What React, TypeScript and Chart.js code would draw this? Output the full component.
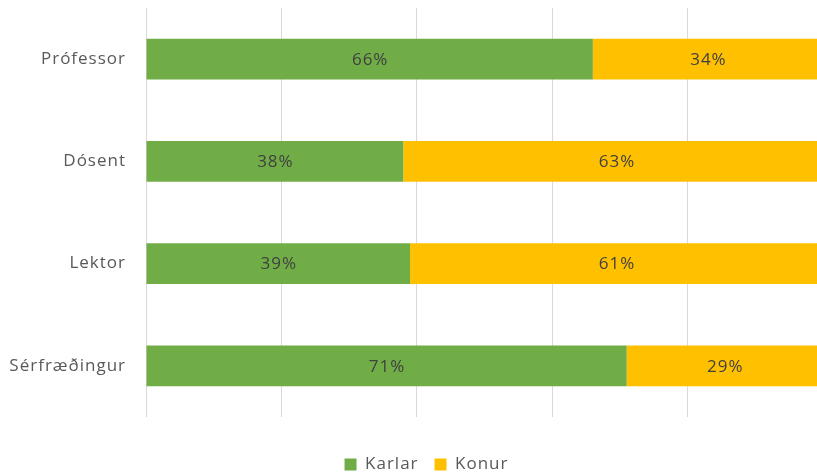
import React, { useEffect, useRef } from "react";
import { Chart, registerables } from "chart.js";

Chart.register(...registerables);

const categories = ["Prófessor", "Dósent", "Lektor", "Sérfræðingur"];
const karlar = [66, 38, 39, 71];
const konur = [34, 63, 61, 29];
const seriesNames = ["Karlar", "Konur"];
const xTickStep = 20;

const FONT = "'Open Sans', 'Liberation Sans', sans-serif";

const spacingPlugin = {
  id: "spacing",
  beforeLayout(chart: any) {
    chart.ctx.letterSpacing = "1px";
  },
  afterLayout(chart: any) {
    if (chart.legend) chart.legend.left = 36;
  },
  beforeDraw(chart: any) {
    chart.ctx.letterSpacing = "1px";
  },
};

const dataLabelPlugin = {
  id: "dataLabels",
  afterDatasetsDraw(chart: any) {
    const ctx = chart.ctx;
    ctx.save();
    ctx.letterSpacing = "1px";
    ctx.font = `17px ${FONT}`;
    ctx.fillStyle = "#404040";
    ctx.textAlign = "center";
    ctx.textBaseline = "middle";
    chart.data.datasets.forEach((ds: any, di: number) => {
      const meta = chart.getDatasetMeta(di);
      meta.data.forEach((el: any, i: number) => {
        const p = el.getProps(["x", "y", "base"], true);
        const cx = (p.x + p.base) / 2;
        ctx.fillText(`${ds.data[i]}%`, cx + 0.5, p.y + 1);
      });
    });
    ctx.restore();
  },
};

export default function App() {
  const ref = useRef<HTMLCanvasElement>(null);
  useEffect(() => {
    document.body.style.margin = "0";
    const chart = new Chart(ref.current!, {
      type: "bar",
      data: {
        labels: categories,
        datasets: [
          { label: seriesNames[0], data: karlar, backgroundColor: "#70AD47", borderWidth: 0 },
          { label: seriesNames[1], data: konur, backgroundColor: "#FFC000", borderWidth: 0 },
        ],
      },
      options: {
        indexAxis: "y",
        animation: false,
        responsive: false,
        layout: { padding: { top: 8, right: 0, left: 0, bottom: -8 } },
        datasets: { bar: { barPercentage: 0.4, categoryPercentage: 1 } },
        scales: {
          x: {
            stacked: true,
            min: 0,
            max: 99.11,
            ticks: { display: false, stepSize: xTickStep },
            grid: { color: "#D9D9D9", lineWidth: 1, drawTicks: false },
            border: { display: false },
            afterFit(scale: any) {
              scale.height = 23;
              scale.paddingLeft = 0;
              scale.paddingRight = 0;
            },
          },
          y: {
            stacked: true,
            ticks: {
              color: "#595959",
              font: { family: FONT, size: 17 },
              padding: 20,
            },
            grid: { display: false, drawTicks: false },
            border: { display: false },
            afterFit(scale: any) {
              scale.width = 146;
              scale.paddingTop = 0;
              scale.paddingBottom = 0;
            },
          },
        },
        plugins: {
          legend: {
            position: "bottom",
            labels: {
              color: "#595959",
              font: { family: FONT, size: 17 },
              boxWidth: 12,
              boxHeight: 12,
              padding: 16,
            },
          },
          tooltip: { enabled: false },
        },
      } as any,
      plugins: [spacingPlugin, dataLabelPlugin],
    });
    return () => chart.destroy();
  }, []);
  return (
    <div style={{ position: "absolute", left: 0, top: 0, width: 817, height: 475 }}>
      <canvas ref={ref} width={817} height={475} />
    </div>
  );
}
